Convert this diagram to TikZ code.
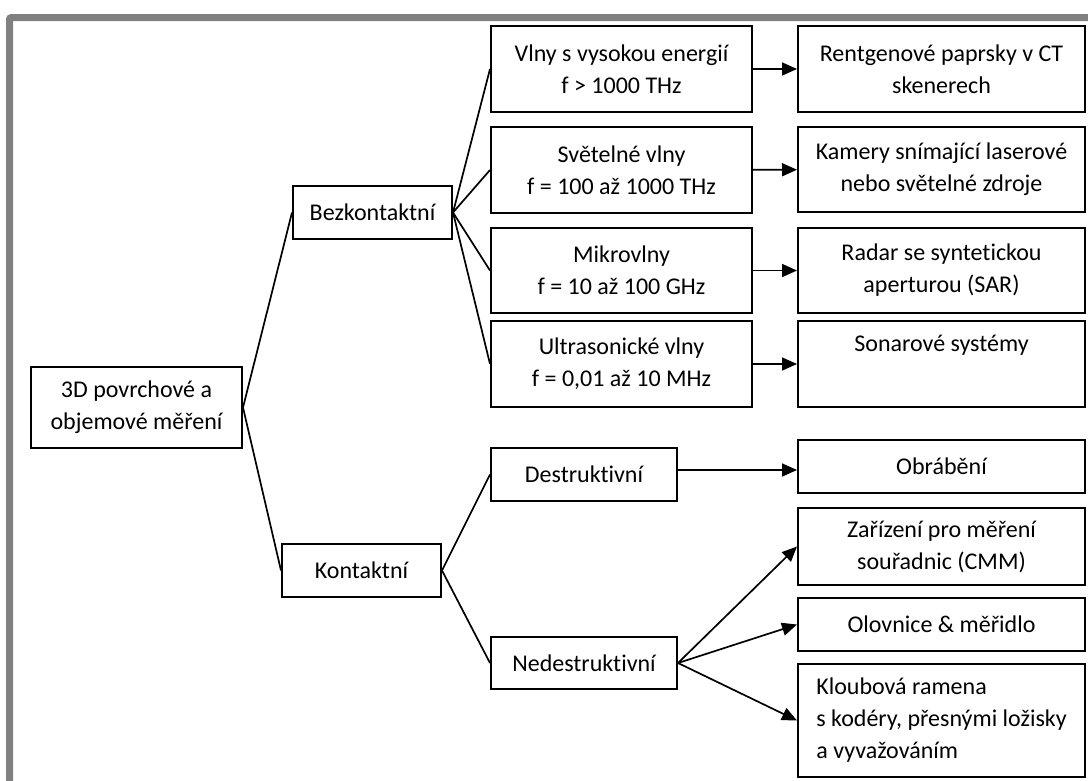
\documentclass[tikz,border=0pt]{standalone}
\usepackage{fontspec}
\setmainfont{Carlito}[Ligatures=NoCommon]
\usetikzlibrary{arrows.meta}
\tikzset{
	box/.style={draw,line width=2pt,align=center,inner sep=0pt,font=\fontsize{24}{32}\selectfont},
	link/.style={line width=1.7pt},
	arr/.style={line width=1.7pt,-{Triangle[length=15pt,width=13pt]}},
}
\begin{document}
\begin{tikzpicture}[x=1pt,y=-1pt]
			\useasboundingbox (0,0) rectangle (1088,780);
			\draw [line width=7pt,color=gray,rounded corners=2pt] (9.5,790) -- (9.5,17.5) -- (1098,17.5);
			\node [box,minimum width=211pt,minimum height=81pt] (root) at (136.5,407.5) {3D povrchové a\\objemové měření};
			\node [box,minimum width=159pt,minimum height=53pt] (bez) at (372.5,212.5) {Bezkontaktní};
			\node [box,minimum width=159pt,minimum height=53pt] (kon) at (361.5,570.5) {Kontaktní};
			\node [box,minimum width=261pt,minimum height=86pt] (vlny) at (621.5,69) {Vlny s vysokou energií\\f > 1000 THz};
			\node [box,minimum width=261pt,minimum height=86pt] (svet) at (621.5,170) {Světelné vlny\\f = 100 až 1000 THz};
			\node [box,minimum width=261pt,minimum height=85pt] (mikro) at (621.5,270.5) {Mikrovlny\\f = 10 až 100 GHz};
			\node [box,minimum width=261pt,minimum height=86pt] (ultra) at (621.5,364) {Ultrasonické vlny\\f = 0,01 až 10 MHz};
			\node [box,minimum width=186pt,minimum height=53pt] (destr) at (584,474.5) {Destruktivní};
			\node [box,minimum width=186pt,minimum height=52pt] (nedes) at (584,663) {Nedestruktivní};
			\node [box,minimum width=287pt,minimum height=86pt] (rentg) at (941.5,69) {Rentgenové paprsky v CT\\skenerech};
			\node [box,minimum width=287pt,minimum height=85pt] (kamery) at (941.5,169.5) {Kamery snímající laserové\\nebo světelné zdroje};
			\node [box,minimum width=287pt,minimum height=85pt] (radar) at (941.5,270.5) {Radar se syntetickou\\aperturou (SAR)};
			\node [box,minimum width=287pt,minimum height=86pt] (sonar) at (941.5,364) {Sonarové systémy\\\strut};
			\node [box,minimum width=287pt,minimum height=53pt] (obrab) at (941.5,466.5) {Obrábění};
			\node [box,minimum width=287pt,minimum height=77pt] (zariz) at (941.5,546.5) {Zařízení pro měření\\souřadnic (CMM)};
			\node [box,minimum width=287pt,minimum height=53pt] (olov) at (941.5,624.5) {Olovnice \& měřidlo};
			\node [box,minimum width=287pt,minimum height=113pt,align=left] (kloub) at (941.5,720.5) {Kloubová ramena\\s kodéry, přesnými ložisky\\a vyvažováním};
			\draw [link] (bez.west) -- (root.east) -- (kon.west);
			\draw [link] (bez.east) -- (vlny.west);
			\draw [link] (bez.east) -- (svet.west);
			\draw [link] (bez.east) -- (mikro.west);
			\draw [link] (bez.east) -- (ultra.west);
			\draw [link] (destr.west) -- (kon.east) -- (nedes.west);
			\draw [arr] (vlny) -- (rentg);
			\draw [arr] (svet) -- (kamery);
			\draw [arr] (mikro) -- (radar);
			\draw [arr] (ultra) -- (sonar);
			\draw [arr] ([yshift=4.5pt]destr.east) -- ([yshift=4.5pt]destr.east -| obrab.west);
			\draw [arr] (nedes.east) -- (zariz.west);
			\draw [arr] (nedes.east) -- (olov.west);
			\draw [arr] (nedes.east) -- (kloub.west);
		\end{tikzpicture}
\end{document}
